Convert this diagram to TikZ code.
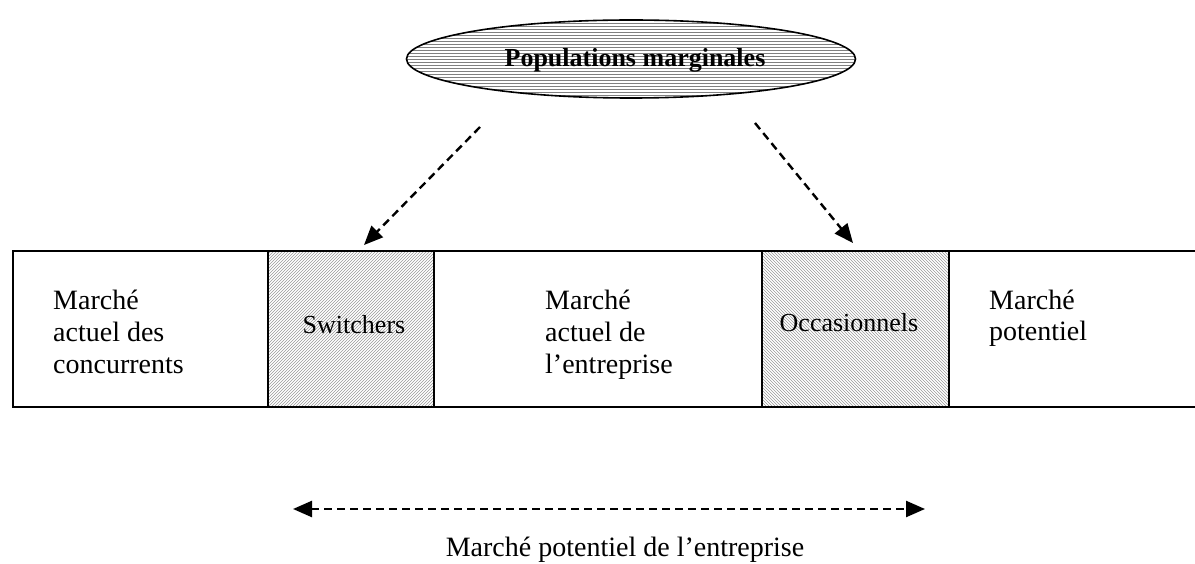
\documentclass[tikz,border=0pt]{standalone}
\usepackage{fontspec}
\setmainfont{Liberation Serif}
\usetikzlibrary{shapes.geometric,patterns,arrows.meta}
\tikzset{
  cellbox/.style={draw, line width=1.6pt, minimum height=156pt, inner sep=0pt, anchor=north west},
  hatchA/.style={pattern=north east lines, pattern color=black!40},
  hatchB/.style={pattern=north west lines, pattern color=black!40},
  bodytext/.style={font=\fontsize{28}{32}\selectfont, anchor=base west, inner sep=0pt, align=left},
  celllabel/.style={font=\fontsize{26}{30}\selectfont, anchor=base, inner sep=0pt},
  dasharrow/.style={dashed, dash pattern=on 8pt off 5pt, line width=2.4pt, -{Triangle[length=19pt,width=16pt]}},
  popell/.style={ellipse, draw, line width=1.6pt, minimum width=449pt, minimum height=78pt, inner sep=0pt,
    pattern=horizontal lines, pattern color=black!50}
}
\begin{document}
\begin{tikzpicture}[x=1pt,y=-1pt]
\useasboundingbox (0,0) rectangle (1195,564);
% ellipse
\node[popell] (pop) at (631,59) {};
\node[font=\fontsize{26}{30}\selectfont\bfseries, anchor=base, inner sep=0pt] (poptxt) at (635,67) {Populations marginales};
% cells
\node[cellbox, minimum width=255pt] (c1) at (12,250) {};
\node[cellbox, hatchA, minimum width=166pt] (c2) at (267,250) {};
\node[cellbox, minimum width=328pt] (c3) at (433,250) {};
\node[cellbox, hatchB, minimum width=187pt] (c4) at (761,250) {};
\node[cellbox, minimum width=260pt] (c5) at (948,250) {};
% texts (anchor base = baseline of last line)
\node[bodytext] (t1) at (53,373) {Marché\\actuel des\\concurrents};
\node[celllabel] (t2) at (354,334) {Switchers};
\node[bodytext] (t3) at (545,373) {Marché\\actuel de\\l’entreprise};
\node[celllabel] (t4) at (849,331) {Occasionnels};
\node[bodytext] (t5) at (989,341) {Marché\\potentiel};
% arrows
\coordinate (a1s) at (480,127);
\coordinate (a1e) at (364,245);
\coordinate (a2s) at (755,123);
\coordinate (a2e) at (853,243);
\draw[dasharrow] (a1s) -- (a1e);
\draw[dasharrow] (a2s) -- (a2e);
% bottom
\coordinate (bl) at (293,509);
\coordinate (br) at (925,509);
\draw[dasharrow, {Triangle[length=19pt,width=16pt]}-{Triangle[length=19pt,width=16pt]}] (bl) -- (br);
\node[font=\fontsize{28}{32}\selectfont, anchor=base, inner sep=0pt] (bt) at (625,556) {Marché potentiel de l’entreprise};
\end{tikzpicture}
\end{document}
